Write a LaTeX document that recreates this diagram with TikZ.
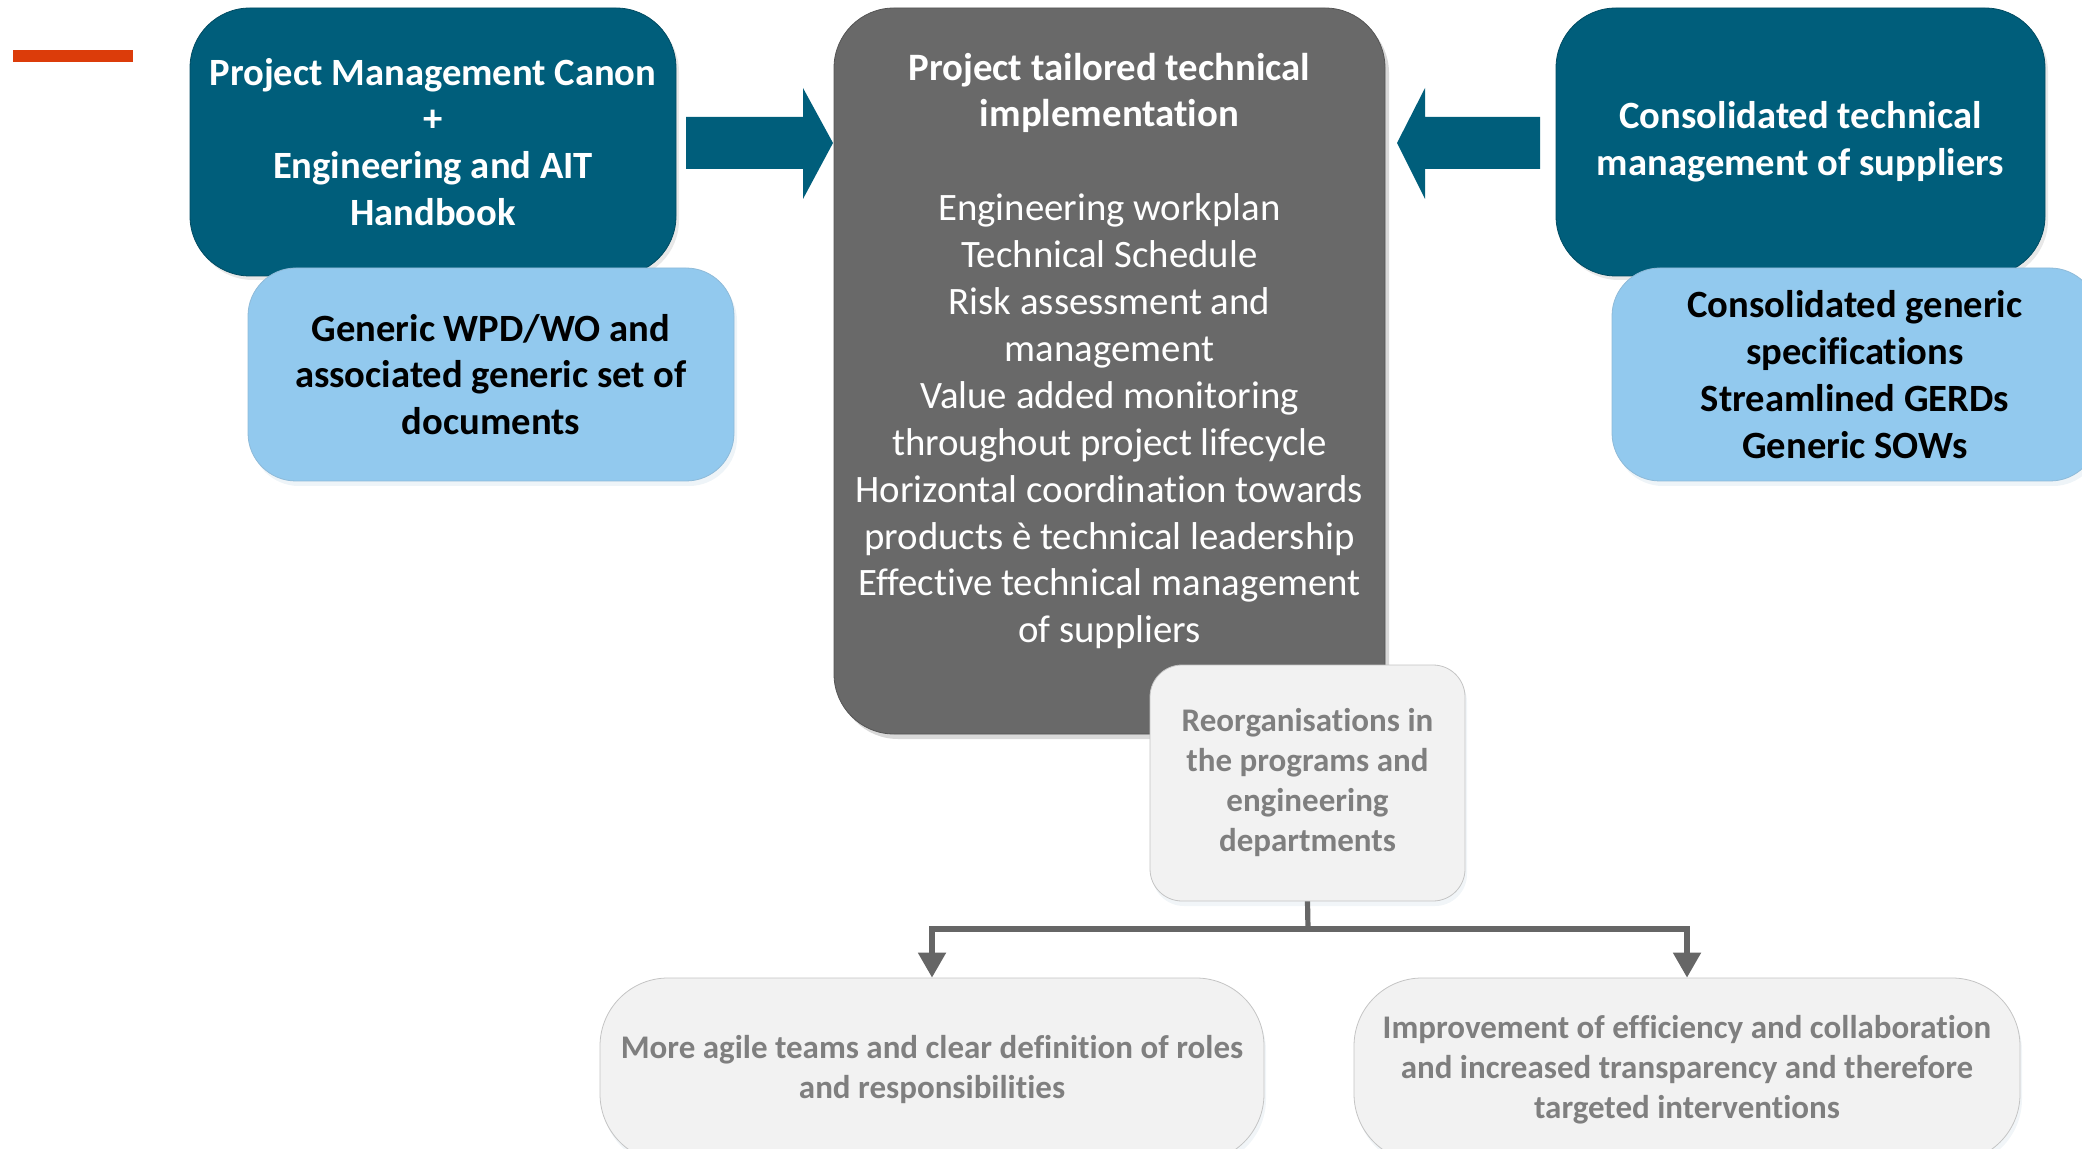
\documentclass[tikz,border=0pt]{standalone}
\usepackage{fontspec}
\setmainfont[Ligatures=NoCommon]{Carlito}
\usetikzlibrary{shadows,arrows.meta}
\definecolor{teal}{HTML}{005E7B}
\definecolor{lblue}{HTML}{92C9EE}
\definecolor{cgray}{HTML}{696969}
\definecolor{pale}{HTML}{F2F2F2}
\definecolor{paleline}{HTML}{C4C4C4}
\definecolor{txtgray}{HTML}{7F7F7F}
\definecolor{linegray}{HTML}{666666}
\definecolor{orangebar}{HTML}{DC3C0A}
\tikzset{
  darkbox/.style={fill=teal, draw=teal!80!black, rounded corners=30pt, text=white,
    font=\fontsize{19.3}{23.4}\selectfont\bfseries, align=center,
    drop shadow={shadow xshift=1.5pt, shadow yshift=-2pt, opacity=0.18}},
  bluebox/.style={fill=lblue, draw=lblue!80!gray, rounded corners=24pt, text=black,
    font=\fontsize{19.3}{23.4}\selectfont\bfseries, align=center,
    drop shadow={shadow xshift=1.5pt, shadow yshift=-2.5pt, opacity=0.15, fill=lblue!70!gray}},
  centerbox/.style={fill=cgray, draw=cgray!80!black, rounded corners=30pt,
    drop shadow={shadow xshift=2pt, shadow yshift=-2.5pt, opacity=0.3}},
  palebox/.style={fill=pale, draw=paleline, rounded corners=16pt, text=txtgray,
    font=\fontsize{16.5}{20}\selectfont\bfseries, align=center,
    drop shadow={shadow xshift=1pt, shadow yshift=-2.5pt, opacity=0.12, fill=lblue!60!gray}},
  bottombox/.style={palebox, rounded corners=34pt},
  blockarrow/.style={fill=teal, draw=none},
  tree/.style={draw=linegray, line width=2.6pt},
  treearrow/.style={tree, -{Triangle[width=13.5pt,length=12.5pt]}}
}
\begin{document}
\begin{tikzpicture}[x=0.5pt,y=-0.5pt]
\useasboundingbox (0,0) rectangle (2082,1149);
\begin{scope}
\clip (0,0) rectangle (2082,1149);
\fill[orangebar] (13,50) rectangle (133,62);

% bottom boxes and connector
\node[bottombox, minimum width=332pt, minimum height=92pt] (low1) at (932,1070)
  {More agile teams and clear definition of roles\\and responsibilities};
\node[bottombox, minimum width=333pt, minimum height=92pt] (low2) at (1687,1070)
  {Improvement of efficiency and collaboration\\and increased transparency and therefore\\targeted interventions};

% center box
\node[centerbox, minimum width=275.5pt, minimum height=363pt] (mid) at (1109.5,371) {};
\node[text=white, align=center, font=\fontsize{19.4}{23.45}\selectfont] (midtext) at (1109.5,351)
  {\textbf{Project tailored technical}\\\textbf{implementation}\\[23.45pt]
   Engineering workplan\\Technical Schedule\\Risk assessment and\\management\\
   Value added monitoring\\throughout project lifecycle\\Horizontal coordination towards\\
   products è technical leadership\\Effective technical management\\of suppliers};

\node[palebox, minimum width=157.5pt, minimum height=118pt] (reorg) at (1307.5,783)
  {Reorganisations in\\the programs and\\engineering\\departments};

\coordinate (split) at (1308,929);
\draw[tree] (reorg.south) -- (split);
\draw[treearrow] (split) -| (low1.north);
\draw[treearrow] (split) -| (low2.north);

% left group
\node[darkbox, minimum width=243pt, minimum height=134pt] (canon) at (433,142)
  {Project Management Canon\\+\\Engineering and AIT\\Handbook};
\node[bluebox, minimum width=243pt, minimum height=106.5pt] (wpd) at (491,374.5)
  {Generic WPD/WO and\\associated generic set of\\documents};

% right group
\node[darkbox, minimum width=244.5pt, minimum height=134pt] (supp) at (1800.5,142)
  {Consolidated technical\\management of suppliers};
\node[bluebox, minimum width=243pt, minimum height=106.5pt] (spec) at (1855,374.5)
  {Consolidated generic\\specifications\\Streamlined GERDs\\Generic SOWs};

% block arrows
\fill[blockarrow] (686,117) -- (803,117) -- (803,88) -- (833,143) -- (803,199) -- (803,169) -- (686,169) -- cycle;
\fill[blockarrow] (1540,117) -- (1425,117) -- (1425,88) -- (1397,143) -- (1425,199) -- (1425,169) -- (1540,169) -- cycle;
\end{scope}
\end{tikzpicture}
\end{document}
